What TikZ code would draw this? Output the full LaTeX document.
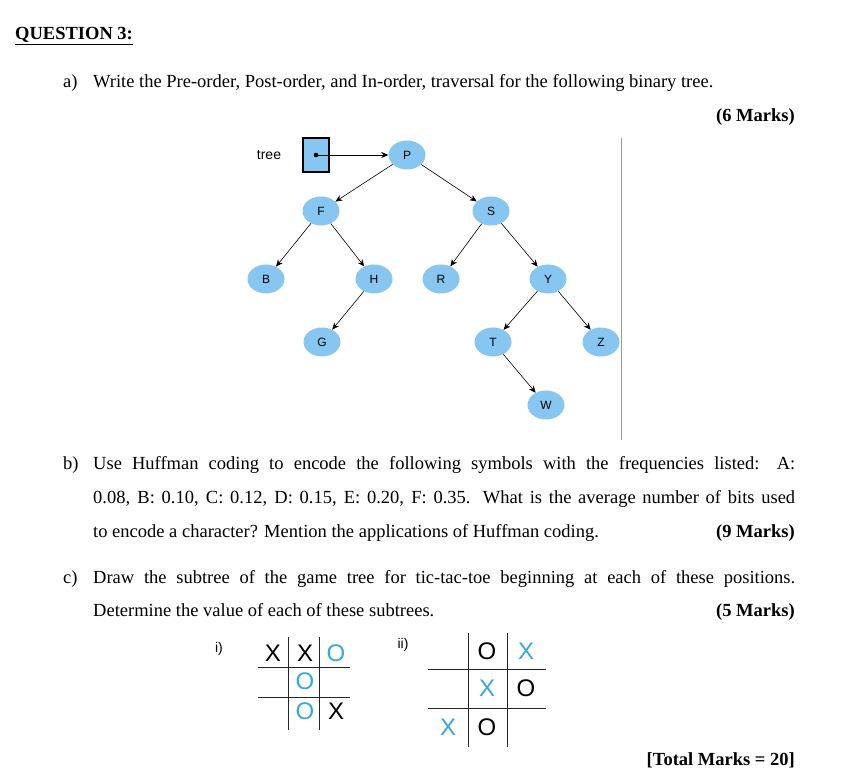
\documentclass[tikz,border=0pt]{standalone}
\usepackage{fontspec}
\setmainfont{Liberation Serif}
\newfontfamily\figfont{Liberation Sans}
\usetikzlibrary{shapes.geometric,arrows.meta}
\definecolor{nodeblue}{RGB}{135,198,240}
\definecolor{markblue}{RGB}{55,168,220}
\newcommand{\qline}[1]{\makebox[702pt][s]{#1}}
\begin{document}
\begin{tikzpicture}[x=1pt,y=-1pt,
    txt/.style={anchor=base west,inner sep=0pt,font=\fontsize{18.5}{20}\selectfont},
    mrk/.style={anchor=base east,inner sep=0pt,font=\fontsize{18.5}{20}\selectfont\bfseries},
    tnode/.style={ellipse,fill=nodeblue,minimum width=37pt,minimum height=29pt,inner sep=0pt,font=\figfont\fontsize{12}{12}\selectfont},
    link/.style={-{Stealth[length=7pt,width=6pt]},semithick},
    grid/.style={line width=1pt,black!85},
    xo/.style={font=\figfont\fontsize{24}{24}\selectfont}]
\useasboundingbox (0,0) rectangle (864,783);
\fill[white] (0,0) rectangle (864,783);
% heading
\node[txt,font=\fontsize{18.5}{20}\selectfont\bfseries] (head) at (15,40) {\underline{QUESTION 3:}};
% part a
\node[txt] (la) at (63,88) {a)};
\node[txt] (qa) at (93,88) {Write the Pre-order, Post-order, and In-order, traversal for the following binary tree.};
\node[mrk] (ma) at (795,122) {(6 Marks)};
% tree
\node[font=\figfont\fontsize{14}{14}\selectfont] (lbl) at (269,155) {tree};
\node[draw,line width=1.2pt,fill=nodeblue,minimum width=26pt,minimum height=34pt,inner sep=0pt] (box) at (316,155) {};
\fill (316,155) circle (2.3pt);
\coordinate (dot) at (316,155);
\node[tnode] (P) at (407,155) {P};
\node[tnode] (F) at (321,211) {F};
\node[tnode] (S) at (491,211) {S};
\node[tnode] (B) at (266,279) {B};
\node[tnode] (H) at (374,279) {H};
\node[tnode] (R) at (441,279) {R};
\node[tnode] (Y) at (548,279) {Y};
\node[tnode] (G) at (322,342) {G};
\node[tnode] (T) at (493,342) {T};
\node[tnode] (Z) at (601,342) {Z};
\node[tnode] (W) at (546,405) {W};
\draw[link] (dot) -- (P);
\draw[link] (P) -- (F);
\draw[link] (P) -- (S);
\draw[link] (F) -- (B);
\draw[link] (F) -- (H);
\draw[link] (S) -- (R);
\draw[link] (S) -- (Y);
\draw[link] (H) -- (G);
\draw[link] (Y) -- (T);
\draw[link] (Y) -- (Z);
\draw[link] (T) -- (W);
\draw[black!40] (621,138) -- (621,440);
% part b
\node[txt] (lb) at (63,469) {b)};
\node[txt] (qb1) at (93,469) {\qline{Use Huffman coding to encode the following symbols with the frequencies listed: A:}};
\node[txt] (qb2) at (93,503) {\qline{0.08, B: 0.10, C: 0.12, D: 0.15, E: 0.20, F: 0.35. What is the average number of bits used}};
\node[txt] (qb3) at (93,537) {to encode a character? Mention the applications of Huffman coding.};
\node[mrk] (mb) at (795,537) {(9 Marks)};
% part c
\node[txt] (lc) at (63,583) {c)};
\node[txt] (qc1) at (93,583) {\qline{Draw the subtree of the game tree for tic-tac-toe beginning at each of these positions.}};
\node[txt] (qc2) at (93,616) {Determine the value of each of these subtrees.};
\node[mrk] (mc) at (795,616) {(5 Marks)};
% board i
\node[font=\figfont\fontsize{14}{14}\selectfont] (bi) at (219,649) {i)};
\draw[grid] (288,637) -- (288,730) (319,637) -- (319,730)
            (258,667) -- (350,667) (258,697) -- (350,697);
\node[xo] at (273,653) {X};
\node[xo] at (305,653) {X};
\node[xo,markblue] at (336,653) {O};
\node[xo,markblue] at (305,681) {O};
\node[xo,markblue] at (305,711) {O};
\node[xo] at (336,711) {X};
% board ii
\node[font=\figfont\fontsize{14}{14}\selectfont] (bii) at (403,645) {ii)};
\draw[grid] (468,633) -- (468,747) (507,633) -- (507,747)
            (428,669) -- (546,669) (428,708) -- (546,708);
\node[xo] at (487,651) {O};
\node[xo,markblue] at (526,651) {X};
\node[xo,markblue] at (487,688) {X};
\node[xo] at (526,688) {O};
\node[xo,markblue] at (448,727) {X};
\node[xo] at (487,727) {O};
\node[mrk] (tot) at (795,765) {[Total Marks = 20]};
\end{tikzpicture}
\end{document}
